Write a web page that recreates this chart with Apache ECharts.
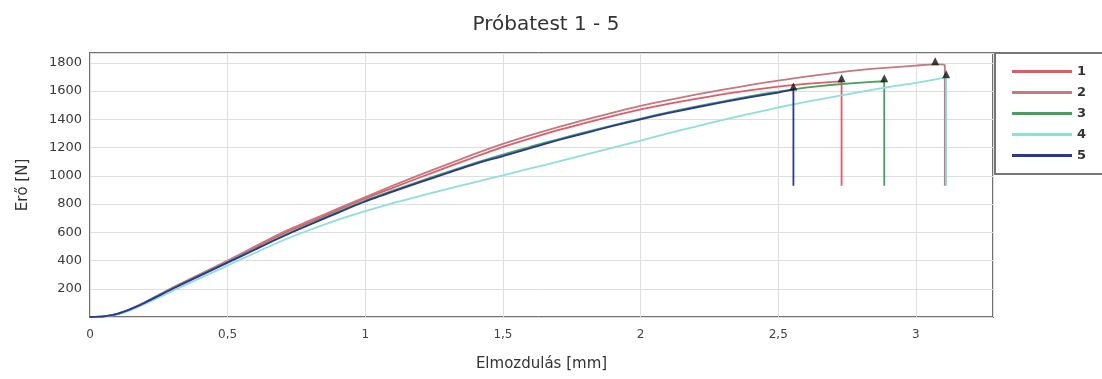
<!DOCTYPE html>
<html>
<head>
<meta charset="utf-8">
<script src="https://cdn.jsdelivr.net/npm/echarts@6/dist/echarts.min.js"></script>
<style>
  html, body { margin: 0; padding: 0; background: #fff; }
  #chart { width: 1102px; height: 379px; }
</style>
</head>
<body>
<div id="chart"></div>
<script>
// Force–displacement curves of specimens 1–5: [displacement mm, force N]
const seriesNames = ['1', '2', '3', '4', '5'];
const seriesColors = ['#e35a66', '#c47880', '#45a05c', '#8ddfd8', '#2b3696'];

const test1 = [[0,0],[0.05,4],[0.1,22],[0.15,58],[0.2,104],[0.3,205],[0.4,300],[0.5,395],[0.6,492],[0.7,590],[0.8,672],[0.9,758],[1.0,840],[1.1,915],[1.2,990],[1.3,1063],[1.4,1135],[1.5,1205],[1.6,1266],[1.7,1323],[1.8,1375],[1.9,1424],[2.0,1470],[2.1,1510],[2.2,1545],[2.3,1578],[2.4,1607],[2.5,1632],[2.6,1651],[2.7,1665],[2.73,1670],[2.73,930]];
const test2 = [[0,0],[0.05,4],[0.1,22],[0.15,60],[0.2,106],[0.3,208],[0.4,305],[0.5,400],[0.6,500],[0.7,600],[0.8,684],[0.9,768],[1.0,850],[1.1,930],[1.2,1008],[1.3,1083],[1.4,1157],[1.5,1226],[1.6,1288],[1.7,1345],[1.8,1398],[1.9,1448],[2.0,1495],[2.1,1537],[2.2,1575],[2.3,1610],[2.4,1644],[2.5,1675],[2.6,1703],[2.7,1728],[2.8,1750],[2.9,1767],[3.0,1781],[3.07,1790],[3.105,1786],[3.105,930]];
const test3 = [[0,0],[0.05,4],[0.1,22],[0.15,57],[0.2,102],[0.3,202],[0.4,295],[0.5,388],[0.6,480],[0.7,575],[0.8,660],[0.9,745],[1.0,825],[1.1,895],[1.2,963],[1.3,1028],[1.4,1092],[1.5,1150],[1.6,1206],[1.7,1259],[1.8,1310],[1.9,1358],[2.0,1405],[2.1,1450],[2.2,1490],[2.3,1528],[2.4,1565],[2.5,1597],[2.6,1624],[2.7,1645],[2.8,1660],[2.885,1670],[2.885,930]];
const test4 = [[0,0],[0.05,3],[0.1,18],[0.15,50],[0.2,92],[0.3,185],[0.4,275],[0.5,365],[0.6,455],[0.7,542],[0.8,618],[0.9,688],[1.0,750],[1.1,806],[1.2,858],[1.3,908],[1.4,956],[1.5,1003],[1.6,1052],[1.7,1101],[1.8,1150],[1.9,1200],[2.0,1250],[2.1,1300],[2.2,1349],[2.3,1396],[2.4,1441],[2.5,1484],[2.6,1524],[2.7,1560],[2.8,1595],[2.9,1628],[3.0,1658],[3.11,1698],[3.11,930]];
const test5 = [[0,0],[0.05,4],[0.1,22],[0.15,57],[0.2,101],[0.3,200],[0.4,293],[0.5,385],[0.6,478],[0.7,570],[0.8,655],[0.9,738],[1.0,818],[1.1,888],[1.2,955],[1.3,1020],[1.4,1085],[1.5,1140],[1.6,1197],[1.7,1252],[1.8,1303],[1.9,1353],[2.0,1400],[2.1,1444],[2.2,1484],[2.3,1522],[2.4,1557],[2.5,1590],[2.555,1612],[2.555,930]];

const yTicks = [200, 400, 600, 800, 1000, 1200, 1400, 1600, 1800];
const xTicks = [0, 0.5, 1, 1.5, 2, 2.5, 3];

const curves = [test1, test2, test3, test4, test5];
// peak force of each specimen, marked with a black triangle
const peaks = curves.map(c => c.reduce((m, p) => (p[1] > m[1] ? p : m), c[0]));

const font = 'DejaVu Sans, Verdana, sans-serif';

const lineSeries = curves.map((c, i) => ({
  name: seriesNames[i],
  type: 'line',
  data: c,
  showSymbol: false,
  symbol: 'none',
  smooth: 0.2,
  color: seriesColors[i],
  lineStyle: { width: 1.8, color: seriesColors[i] },
  animation: false
}));

const chart = echarts.init(document.getElementById('chart'), null, { renderer: 'canvas' });
chart.setOption({
  animation: false,
  backgroundColor: '#ffffff',
  title: {
    text: 'Próbatest 1 - 5',
    left: 541,
    top: 10,
    textAlign: 'center',
    textStyle: { fontFamily: font, fontSize: 20, fontWeight: 'normal', color: '#333' }
  },
  legend: {
    data: seriesNames,
    orient: 'vertical',
    left: 995,
    top: 53,
    padding: [12, 26, 12, 17],
    itemWidth: 60,
    itemHeight: 3,
    itemGap: 8,
    icon: 'rect',
    borderColor: '#777',
    borderWidth: 2,
    backgroundColor: '#fff',
    textStyle: { fontFamily: font, fontSize: 13, fontWeight: 'bold', color: '#333', lineHeight: 13 }
  },
  grid: {
    left: 90, right: 109, top: 53, bottom: 62,
    show: true, borderColor: '#707070', borderWidth: 2, backgroundColor: 'transparent'
  },
  xAxis: {
    type: 'value',
    min: 0, max: 3.28, interval: 0.5,
    name: 'Elmozdulás [mm]',
    nameLocation: 'middle',
    nameGap: 40,
    nameTextStyle: { fontFamily: font, fontSize: 15, color: '#333' },
    axisLine: { show: false },
    axisTick: { show: false },
    axisLabel: {
      margin: 12, fontFamily: font, fontSize: 12, color: '#444',
      showMaxLabel: false,
      formatter: v => (xTicks.includes(v) ? String(v).replace('.', ',') : '')
    },
    splitLine: { show: true, lineStyle: { color: '#dedede', width: 1 } }
  },
  yAxis: {
    type: 'value',
    min: 0, max: 1870, interval: 200,
    name: 'Erő [N]',
    nameLocation: 'middle',
    nameGap: 59,
    nameTextStyle: { fontFamily: font, fontSize: 15, color: '#333' },
    axisLine: { show: false },
    axisTick: { show: false },
    axisLabel: {
      margin: 8, fontFamily: font, fontSize: 13, color: '#3a3a3a',
      showMinLabel: false, showMaxLabel: false,
      formatter: v => (yTicks.includes(v) ? String(v) : '')
    },
    splitLine: { show: true, lineStyle: { color: '#dedede', width: 1 } }
  },
  series: lineSeries.concat([{
    name: 'peaks',
    type: 'scatter',
    data: peaks,
    symbol: 'triangle',
    symbolSize: 8,
    symbolOffset: [0, -3],
    itemStyle: { color: '#111' },
    z: 5,
    animation: false
  }])
});
</script>
</body>
</html>
